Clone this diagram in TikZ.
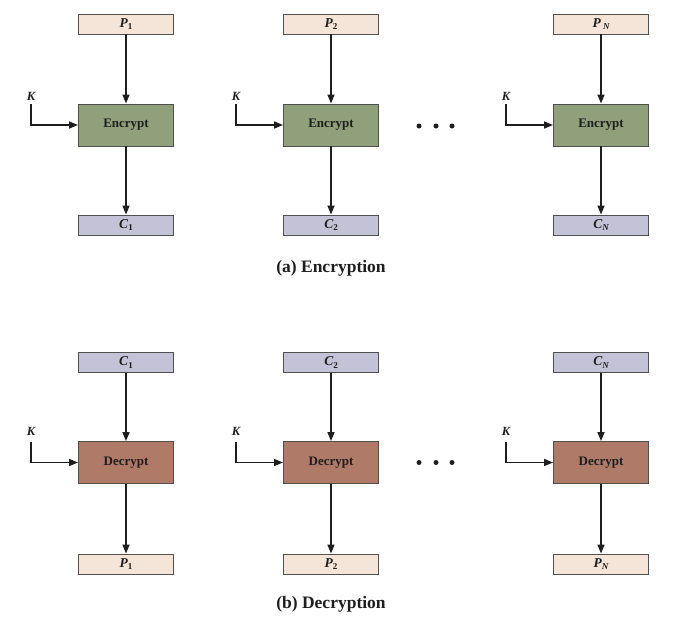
\documentclass[tikz,border=0pt]{standalone}
\usepackage{fontspec}
\setmainfont{Liberation Serif}
\usetikzlibrary{arrows.meta}
\definecolor{pfill}{RGB}{245,228,216}
\definecolor{cfill}{RGB}{196,194,214}
\definecolor{efill}{RGB}{143,160,122}
\definecolor{dfill}{RGB}{176,122,104}
\definecolor{bord}{RGB}{80,80,80}
\definecolor{ink}{RGB}{30,30,30}
\newcommand{\lbl}[2]{{\bfseries\itshape #1}\raisebox{-0.45ex}{\bfseries\fontsize{9}{10}\selectfont #2}}
\newcommand{\lbln}[1]{{\bfseries\itshape #1}\raisebox{-0.45ex}{\bfseries\itshape\fontsize{9}{10}\selectfont N}}
\tikzset{
  smallbox/.style={draw=bord, line width=0.9pt, minimum width=95pt, minimum height=20pt, inner sep=0pt, text=ink, font=\fontsize{13.5}{15}\selectfont},
  pbox/.style={smallbox, fill=pfill},
  cbox/.style={smallbox, fill=cfill},
  bigbox/.style={draw=bord, line width=0.9pt, minimum width=95pt, minimum height=42pt, inner sep=0pt, text=ink, font=\bfseries\fontsize{13}{15}\selectfont},
  ebox/.style={bigbox, fill=efill},
  dbox/.style={bigbox, fill=dfill},
  arr/.style={line width=1.5pt, draw=ink, -{Triangle[length=9pt,width=7pt]}},
  klbl/.style={font=\bfseries\itshape\fontsize{12.5}{14}\selectfont, inner sep=0pt, text=ink},
  captxt/.style={font=\bfseries\fontsize{17.5}{20}\selectfont, inner sep=0pt, text=ink},
  dotmark/.style={fill=ink, draw=none, circle, minimum size=5pt, inner sep=0pt}
}
\begin{document}
\begin{tikzpicture}[x=1pt,y=-1pt]
\useasboundingbox (0,0) rectangle (688,619);
% ---------- Encryption ----------
\foreach \i/\cx/\kx/\sub in {1/126/31/1, 2/331/236/2, 3/601/506/N}{
  \node[pbox] (p\i) at (\cx,24) {\ifnum\i=3 {\bfseries\itshape P}\,\raisebox{-0.45ex}{\bfseries\itshape\fontsize{9}{10}\selectfont N}\else\lbl{P}{\sub}\fi};
  \node[ebox] (e\i) at (\cx,125) {Encrypt};
  \node[cbox] (c\i) at (\cx,225) {\ifnum\i=3 \lbln{C}\else\lbl{C}{\sub}\fi};
  \node[klbl] (ka\i) at (\kx,96) {K};
  \coordinate (ks\i) at (\kx,104);
  \draw[arr] (p\i) -- (e\i);
  \draw[arr] (e\i) -- (c\i);
  \draw[arr] (ks\i) |- (e\i.west);
}
\foreach \x [count=\j] in {419,436,452}{
  \node[dotmark] (da\j) at (\x,126) {};
}
\node[captxt] (capa) at (331,268) {(a) Encryption};
% ---------- Decryption ----------
\foreach \i/\cx/\kx/\sub in {1/126/31/1, 2/331/236/2, 3/601/506/N}{
  \node[cbox] (dc\i) at (\cx,362.5) {\ifnum\i=3 \lbln{C}\else\lbl{C}{\sub}\fi};
  \node[dbox] (d\i) at (\cx,462.5) {Decrypt};
  \node[pbox] (dp\i) at (\cx,564) {\ifnum\i=3 \lbln{P}\else\lbl{P}{\sub}\fi};
  \node[klbl] (kb\i) at (\kx,431) {K};
  \coordinate (kt\i) at (\kx,442);
  \draw[arr] (dc\i) -- (d\i);
  \draw[arr] (d\i) -- (dp\i);
  \draw[arr] (kt\i) |- (d\i.west);
}
\foreach \x [count=\j] in {419,436,452}{
  \node[dotmark] (db\j) at (\x,462.5) {};
}
\node[captxt] (capb) at (331,604) {(b) Decryption};
\end{tikzpicture}
\end{document}
